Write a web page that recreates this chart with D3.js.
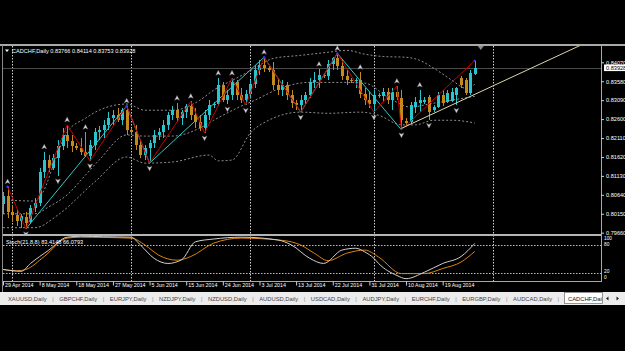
<!DOCTYPE html>
<html>
<head>
<meta charset="utf-8">
<script src="https://cdn.jsdelivr.net/npm/d3@7"></script>
<style>
  html, body { margin: 0; padding: 0; background: #000; }
  svg { display: block; }
  text { font-family: "Liberation Sans", Arial, sans-serif; }
</style>
</head>
<body>
<svg id="chart" width="625" height="351"></svg>
<script>
// bar dates (broker has Sunday bars), last four are empty future slots
const dates = [
  "2014-04-29","2014-04-30","2014-05-01","2014-05-02","2014-05-04","2014-05-05","2014-05-06","2014-05-07","2014-05-08","2014-05-09",
  "2014-05-11","2014-05-12","2014-05-13","2014-05-14","2014-05-15","2014-05-16","2014-05-18","2014-05-19","2014-05-20","2014-05-21",
  "2014-05-22","2014-05-23","2014-05-25","2014-05-26","2014-05-27","2014-05-28","2014-05-29","2014-05-30","2014-06-01","2014-06-02",
  "2014-06-03","2014-06-04","2014-06-05","2014-06-06","2014-06-08","2014-06-09","2014-06-10","2014-06-11","2014-06-12","2014-06-13",
  "2014-06-15","2014-06-16","2014-06-17","2014-06-18","2014-06-19","2014-06-20","2014-06-22","2014-06-23","2014-06-24","2014-06-25",
  "2014-06-26","2014-06-27","2014-06-29","2014-06-30","2014-07-01","2014-07-02","2014-07-03","2014-07-04","2014-07-06","2014-07-07",
  "2014-07-08","2014-07-09","2014-07-10","2014-07-11","2014-07-13","2014-07-14","2014-07-15","2014-07-16","2014-07-17","2014-07-18",
  "2014-07-20","2014-07-21","2014-07-22","2014-07-23","2014-07-24","2014-07-25","2014-07-27","2014-07-28","2014-07-29","2014-07-30",
  "2014-07-31","2014-08-01","2014-08-03","2014-08-04","2014-08-05","2014-08-06","2014-08-07","2014-08-08","2014-08-10","2014-08-11",
  "2014-08-12","2014-08-13","2014-08-14","2014-08-15","2014-08-17","2014-08-18","2014-08-19","2014-08-20","2014-08-21","2014-08-22",
  "2014-08-24","2014-08-25","2014-08-26","2014-08-27","2014-08-28","2014-08-29","2014-08-31","2014-09-01"
];

const opens = [
  0.8040,0.8062,0.8020,0.8012,0.7997,0.8007,0.7994,0.8030,0.8043,0.8123,
  0.8154,0.8134,0.8160,0.8190,0.8219,0.8203,0.8190,0.8185,0.8175,0.8165,
  0.8193,0.8226,0.8232,0.8245,0.8263,0.8270,0.8257,0.8283,0.8232,0.8226,
  0.8193,0.8167,0.8185,0.8198,0.8219,0.8226,0.8245,0.8270,0.8283,0.8263,
  0.8278,0.8294,0.8270,0.8252,0.8237,0.8270,0.8296,0.8299,0.8348,0.8309,
  0.8322,0.8355,0.8322,0.8309,0.8324,0.8350,0.8386,0.8399,0.8392,0.8386,
  0.8348,0.8335,0.8348,0.8322,0.8301,0.8296,0.8309,0.8322,0.8355,0.8361,
  0.8374,0.8371,0.8402,0.8417,0.8397,0.8371,0.8361,0.8358,0.8361,0.8324,
  0.8309,0.8299,0.8322,0.8319,0.8330,0.8309,0.8330,0.8314,0.8255,0.8252,
  0.8291,0.8301,0.8304,0.8317,0.8283,0.8291,0.8322,0.8304,0.8306,0.8322,
  0.8366,0.8361,0.8327,0.83766
];
const highs = [
  0.8072,0.8085,0.8038,0.8025,0.8015,0.8020,0.8038,0.8056,0.8134,0.8175,
  0.8167,0.8170,0.8206,0.8237,0.8245,0.8219,0.8198,0.8211,0.8226,0.8206,
  0.8237,0.8242,0.8257,0.8278,0.8283,0.8288,0.8288,0.8294,0.8237,0.8245,
  0.8206,0.8193,0.8206,0.8232,0.8237,0.8257,0.8278,0.8294,0.8301,0.8283,
  0.8299,0.8306,0.8288,0.8270,0.8283,0.8309,0.8304,0.8366,0.8355,0.8335,
  0.8366,0.8361,0.8340,0.8335,0.8361,0.8399,0.8412,0.8420,0.8397,0.8407,
  0.8366,0.8361,0.8355,0.8335,0.8309,0.8322,0.8330,0.8366,0.8381,0.8389,
  0.8379,0.8412,0.8422,0.8430,0.8412,0.8386,0.8366,0.8366,0.8381,0.8340,
  0.8330,0.8335,0.8327,0.8340,0.8340,0.8340,0.8345,0.8335,0.8263,0.8304,
  0.8317,0.8335,0.8317,0.8322,0.8296,0.8330,0.8335,0.8335,0.8340,0.8343,
  0.8371,0.8366,0.8386,0.84114
];
const lows = [
  0.8015,0.8005,0.7994,0.7984,0.7979,0.7976,0.7989,0.8020,0.8036,0.8108,
  0.8123,0.8128,0.8113,0.8180,0.8185,0.8175,0.8180,0.8167,0.8162,0.8152,
  0.8180,0.8206,0.8211,0.8232,0.8245,0.8252,0.8245,0.8219,0.8219,0.8180,
  0.8159,0.8154,0.8146,0.8185,0.8206,0.8211,0.8232,0.8257,0.8252,0.8245,
  0.8263,0.8257,0.8237,0.8229,0.8224,0.8257,0.8288,0.8294,0.8304,0.8299,
  0.8309,0.8309,0.8301,0.8296,0.8314,0.8340,0.8373,0.8381,0.8381,0.8335,
  0.8322,0.8319,0.8309,0.8288,0.8283,0.8278,0.8296,0.8314,0.8340,0.8340,
  0.8366,0.8361,0.8386,0.8386,0.8361,0.8348,0.8353,0.8340,0.8314,0.8296,
  0.8288,0.8278,0.8314,0.8304,0.8299,0.8283,0.8309,0.8232,0.8242,0.8247,
  0.8275,0.8278,0.8299,0.8257,0.8278,0.8288,0.8294,0.8301,0.8304,0.8296,
  0.8340,0.8322,0.8322,0.83753
];
const closes = [
  0.8060,0.8020,0.8012,0.7997,0.8010,0.7992,0.8030,0.8043,0.8123,0.8154,
  0.8134,0.8160,0.8190,0.8219,0.8203,0.8190,0.8185,0.8175,0.8165,0.8193,
  0.8226,0.8232,0.8245,0.8263,0.8270,0.8257,0.8283,0.8232,0.8226,0.8193,
  0.8167,0.8185,0.8198,0.8219,0.8226,0.8245,0.8270,0.8283,0.8263,0.8278,
  0.8294,0.8270,0.8252,0.8237,0.8270,0.8296,0.8299,0.8348,0.8309,0.8322,
  0.8355,0.8322,0.8309,0.8324,0.8350,0.8386,0.8399,0.8392,0.8386,0.8348,
  0.8335,0.8348,0.8322,0.8301,0.8296,0.8309,0.8322,0.8355,0.8361,0.8374,
  0.8371,0.8402,0.8417,0.8397,0.8371,0.8361,0.8358,0.8361,0.8324,0.8309,
  0.8299,0.8322,0.8319,0.8330,0.8309,0.8330,0.8317,0.8257,0.8250,0.8296,
  0.8304,0.8309,0.8309,0.8278,0.8291,0.8322,0.8301,0.8327,0.8330,0.8340,
  0.8348,0.8327,0.8379,0.83928
];

// bands: [bar index, price]
const bandUpper = [[0,0.8051],[7,0.8048],[9,0.8077],[11,0.8141],[14,0.8226],[18,0.8262],[21,0.8283],[27,0.8299],[31,0.8283],[37,0.8283],[43,0.8309],[46,0.8335],[51,0.8366],[55,0.8392],[59,0.8417],[65,0.8425],[71,0.8433],[75,0.8438],[79,0.8428],[83,0.8422],[88,0.8420],[91,0.8412],[94,0.8392],[98,0.8361],[101,0.8340],[103,0.8350]];
const bandMiddle = [[0,0.8015],[7,0.8015],[10,0.8033],[14,0.8064],[18,0.8115],[21,0.8154],[27,0.8219],[31,0.8216],[37,0.8216],[43,0.8237],[46,0.8257],[51,0.8288],[55,0.8309],[61,0.8342],[67,0.8355],[74,0.8355],[79,0.8353],[84,0.8317],[89,0.8291],[93,0.8299],[98,0.8309],[103,0.8319]];
const bandLower = [[0,0.7979],[7,0.7979],[12,0.8012],[20,0.8097],[27,0.8162],[31,0.8146],[37,0.8149],[45,0.8167],[47,0.8152],[50,0.8154],[54,0.8224],[58,0.8257],[65,0.8278],[71,0.8275],[78,0.8278],[82,0.8270],[87,0.8245],[90,0.8245],[94,0.8257],[98,0.8257],[103,0.8250]];

// zigzags (bar indexes of swing points, first one a high / a low)
const redZigBars = [1,5,14,19,27,32,41,44,50,53,57,65,73,81,86,87,103];
const cyanZigBars = [5,27,32,57,65,73,87];
const zigDotBars = [1,27,57,73,103];

// fractals
const upFractals = [1,9,14,18,27,38,41,47,50,57,69,73,78,86,91];
const downFractals = [5,12,19,32,44,49,53,65,81,87,93,99];

// trend line anchors
const trendDates = ["2014-08-08","2014-08-27"];
const trendPrices = [0.8236, 0.8324];

// stochastic (21,8,8): [bar index, value]
const stochMain = [[0,27],[4,23],[6,40],[10,69],[14,97],[17,99],[22,98],[28,97],[30,80],[33,51],[36,40],[39,48],[42,87],[46,93],[52,97],[60,91],[63,80],[67,51],[70,40],[74,69],[77,73],[79,65],[81,51],[82,40],[86,14],[88,7],[92,21],[96,40],[100,55],[103,83.41]];
const stochSignal = [[0,27],[3,24],[5,27],[9,55],[14,95],[17,97],[28,95],[31,80],[34,58],[38,47],[41,55],[46,84],[52,95],[61,90],[65,80],[68,62],[71,46],[75,62],[79,69],[82,54],[87,18],[92,18],[96,29],[100,43],[103,66.08]];

const priceTicks = [0.84070,0.83580,0.83090,0.82600,0.82110,0.81620,0.81130,0.80640,0.80150,0.79660];
const lastPrice = 0.83928;
const stochLevels = [80, 20];
const stochLabels = [100, 80, 20, 0];
const monthStarts = ["2014-05-01","2014-06-01","2014-07-01","2014-08-01","2014-09-01"];
const dateTickDates = ["2014-04-29","2014-05-08","2014-05-18","2014-05-27","2014-06-05","2014-06-15","2014-06-24","2014-07-03","2014-07-13","2014-07-22","2014-07-31","2014-08-10","2014-08-19"];
const dateTickLabels = ["29 Apr 2014","8 May 2014","18 May 2014","27 May 2014","5 Jun 2014","15 Jun 2014","24 Jun 2014","3 Jul 2014","13 Jul 2014","22 Jul 2014","31 Jul 2014","10 Aug 2014","19 Aug 2014"];
const tabNames = ["XAUUSD,Daily","GBPCHF,Daily","EURJPY,Daily","NZDJPY,Daily","NZDUSD,Daily","AUDUSD,Daily","USDCAD,Daily","AUDJPY,Daily","EURCHF,Daily","EURGBP,Daily","AUDCAD,Daily"];
const activeTab = "CADCHF,Daily";
const titleText = "CADCHF,Daily 0.83766 0.84114 0.83753 0.83928";
const stochTitle = "Stoch(21,8,8) 83.4148 66.0793";

const svg = d3.select("#chart");
const L = 3, R = 601, T = 46, B = 234, ST = 235.5, SB = 281.5;
const bull = "#27c6cf", bear = "#c48a1c";

svg.append("rect").attr("width", 625).attr("height", 351).attr("fill", "#000");

const defs = svg.append("defs");
defs.append("clipPath").attr("id", "clipMain").append("rect")
  .attr("x", L).attr("y", T).attr("width", R - L).attr("height", B - T);
defs.append("clipPath").attr("id", "clipSub").append("rect")
  .attr("x", L).attr("y", ST).attr("width", R - L).attr("height", SB - ST);

const x = d3.scaleLinear().domain([0, dates.length - 1]).range([L, L + (dates.length - 1) * 4.58]);
const y = d3.scaleLinear().domain([0.79660, 0.84070]).range([232.7, 62.3]);
const ys = d3.scaleLinear().domain([0, 100]).range([281.9, 235.8]);
const xd = d => x(dates.indexOf(d));

// vertical dotted grid at month starts (both panes)
svg.append("g").selectAll("line").data(monthStarts).join("line")
  .attr("x1", d => Math.round(xd(d)) + 0.5).attr("x2", d => Math.round(xd(d)) + 0.5)
  .attr("y1", T).attr("y2", SB)
  .attr("stroke", "#cfcfcf").attr("stroke-dasharray", "1.5,1.5");

const main = svg.append("g").attr("clip-path", "url(#clipMain)");

// bid line
main.append("line").attr("x1", L).attr("x2", R)
  .attr("y1", Math.round(y(lastPrice)) + 0.5).attr("y2", Math.round(y(lastPrice)) + 0.5)
  .attr("stroke", "#4a4a4a");

// dotted bands
const bandLine = d3.line().x(d => x(d[0])).y(d => y(d[1])).curve(d3.curveMonotoneX);
[bandUpper, bandMiddle, bandLower].forEach(b => {
  main.append("path").attr("d", bandLine(b)).attr("fill", "none")
    .attr("stroke", "#8e8e8e").attr("stroke-width", 1).attr("stroke-dasharray", "2,2");
});

// candles
const bars = opens.map((o, i) => ({ i, o, h: highs[i], l: lows[i], c: closes[i] }));
const cg = main.append("g").attr("shape-rendering", "crispEdges");
cg.selectAll("line").data(bars).join("line")
  .attr("x1", d => Math.round(x(d.i)) + 0.5).attr("x2", d => Math.round(x(d.i)) + 0.5)
  .attr("y1", d => y(d.h)).attr("y2", d => y(d.l))
  .attr("stroke", d => d.c >= d.o ? bull : bear);
cg.selectAll("rect").data(bars).join("rect")
  .attr("x", d => Math.round(x(d.i)) - 1).attr("width", 3)
  .attr("y", d => y(Math.max(d.o, d.c)))
  .attr("height", d => Math.max(1, Math.abs(y(d.o) - y(d.c))))
  .attr("fill", d => d.c >= d.o ? bull : bear);

// zigzags
const zigPts = (list, startHigh) => list.map((b, k) => [x(b), y(((k % 2 === 0) === startHigh) ? highs[b] : lows[b])]);
main.append("path").attr("d", d3.line()(zigPts(cyanZigBars, false)))
  .attr("fill", "none").attr("stroke", "#2ec8c8").attr("stroke-width", 1);
main.append("path").attr("d", d3.line()(zigPts(redZigBars, true)))
  .attr("fill", "none").attr("stroke", "#c80000").attr("stroke-width", 1);
main.selectAll(".zd").data(zigDotBars).join("circle").attr("class", "zd")
  .attr("cx", d => x(d)).attr("cy", d => y(highs[d])).attr("r", 1.2).attr("fill", "#2b3cff");

// trend line (ray to the right)
const ti0 = dates.indexOf(trendDates[0]), ti1 = dates.indexOf(trendDates[1]);
const slope = (trendPrices[1] - trendPrices[0]) / (ti1 - ti0);
const tiEnd = ti0 + 60;
main.append("line")
  .attr("x1", x(ti0)).attr("y1", y(trendPrices[0]))
  .attr("x2", x(tiEnd)).attr("y2", y(trendPrices[0] + slope * (tiEnd - ti0)))
  .attr("stroke", "#dcd6a8").attr("stroke-width", 1);

// fractal arrows
const upArrow = "M0,-2.8L2.5,2L0,0.8L-2.5,2Z";
const downArrow = "M0,2.8L2.5,-2L0,-0.8L-2.5,-2Z";
main.selectAll(".fu").data(upFractals).join("path").attr("class", "fu")
  .attr("d", upArrow).attr("transform", d => `translate(${x(d)},${y(highs[d]) - 5})`)
  .attr("fill", "#d8d8d8").attr("stroke", "#6a6a6a").attr("stroke-width", 0.4);
main.selectAll(".fd").data(downFractals).join("path").attr("class", "fd")
  .attr("d", downArrow).attr("transform", d => `translate(${x(d)},${y(lows[d]) + 5})`)
  .attr("fill", "#d8d8d8").attr("stroke", "#6a6a6a").attr("stroke-width", 0.4);

// stochastic pane
const sub = svg.append("g").attr("clip-path", "url(#clipSub)");
sub.selectAll(".lvl").data(stochLevels).join("line").attr("class", "lvl")
  .attr("x1", L).attr("x2", R)
  .attr("y1", d => Math.round(ys(d)) + 0.5).attr("y2", d => Math.round(ys(d)) + 0.5)
  .attr("stroke", "#bdbdbd").attr("stroke-dasharray", "1.5,1.5");
const stochLine = d3.line().x(d => x(d[0])).y(d => ys(d[1])).curve(d3.curveMonotoneX);
sub.append("path").attr("d", stochLine(stochSignal)).attr("fill", "none")
  .attr("stroke", "#e0820e").attr("stroke-width", 1);
sub.append("path").attr("d", stochLine(stochMain)).attr("fill", "none")
  .attr("stroke", "#cfcfcf").attr("stroke-width", 1);

// frame
const frame = svg.append("g").attr("shape-rendering", "crispEdges");
frame.append("line").attr("x1", 0).attr("x2", 625).attr("y1", 45).attr("y2", 45).attr("stroke", "#a9a9a9").attr("stroke-width", 2);
frame.append("line").attr("x1", 2.5).attr("x2", 2.5).attr("y1", 45).attr("y2", 292).attr("stroke", "#8a8a8a");
frame.append("line").attr("x1", R + 0.5).attr("x2", R + 0.5).attr("y1", 45).attr("y2", SB).attr("stroke", "#a9a9a9");
frame.append("line").attr("x1", L).attr("x2", R).attr("y1", 235).attr("y2", 235).attr("stroke", "#b5b5b5").attr("stroke-width", 2);
frame.append("line").attr("x1", L).attr("x2", R + 1).attr("y1", SB).attr("y2", SB).attr("stroke", "#a9a9a9");

// chart shift marker
svg.append("path").attr("d", "M-3,0L3,0L0,4Z")
  .attr("transform", `translate(${x(opens.length - 1) + 6},46)`).attr("fill", "#8a8a8a");

// price axis
const yAxis = svg.append("g").attr("transform", `translate(${R},0)`)
  .call(d3.axisRight(y).tickValues(priceTicks).tickFormat(d3.format(".5f")).tickSize(3).tickPadding(2));
yAxis.select(".domain").remove();
yAxis.selectAll("line").attr("stroke", "#cfcfcf");
yAxis.selectAll("text").attr("fill", "#fff").attr("font-size", 5.6);

// last price label
svg.append("rect").attr("x", R + 3).attr("y", y(lastPrice) - 3.3).attr("width", 22).attr("height", 6.6).attr("fill", "#fff");
svg.append("text").attr("x", R + 5).attr("y", y(lastPrice)).attr("dy", "0.35em")
  .attr("font-size", 5.6).attr("fill", "#000").text(d3.format(".5f")(lastPrice));

// stochastic level labels
const lvlPos = { 100: ys(100) + 2.5, 80: ys(80) - 0.6, 20: ys(20) - 1, 0: ys(0) - 4.5 };
svg.selectAll(".sl").data(stochLabels).join("text").attr("class", "sl")
  .attr("x", R + 3).attr("y", d => lvlPos[d]).attr("dy", "0.35em")
  .attr("font-size", 4.8).attr("fill", "#fff").text(d => d);

// date axis
const xAxis = svg.append("g").attr("transform", `translate(0,${SB})`)
  .call(d3.axisBottom(x).tickValues(dateTickDates.map(d => dates.indexOf(d)))
    .tickFormat((d, i) => dateTickLabels[i]).tickSize(4).tickPadding(0));
xAxis.select(".domain").remove();
xAxis.selectAll("line").attr("stroke", "#cfcfcf");
xAxis.selectAll("text").attr("fill", "#fff").attr("font-size", 5.3)
  .attr("text-anchor", "start").attr("dx", 1.5).attr("y", 2.2);

// titles
svg.append("path").attr("d", "M5,49.5L9,49.5L7,52Z").attr("fill", "#fff");
svg.append("text").attr("x", 12).attr("y", 51).attr("dy", "0.35em")
  .attr("font-size", 5.6).attr("fill", "#fff").text(titleText);
svg.append("text").attr("x", 6).attr("y", 241.7).attr("dy", "0.35em")
  .attr("font-size", 5.6).attr("fill", "#fff").text(stochTitle);

// tab strip
svg.append("rect").attr("x", 0).attr("y", 292).attr("width", 625).attr("height", 13).attr("fill", "#ececec");
const tabs = svg.append("g");
let tx = 8;
tabNames.forEach(name => {
  const t = tabs.append("text").attr("x", tx).attr("y", 298.5).attr("dy", "0.35em")
    .attr("font-size", 5.8).attr("fill", "#444").text(name);
  const w = t.node().getComputedTextLength();
  tabs.append("text").attr("x", tx + w + 5.5).attr("y", 298.5).attr("dy", "0.35em")
    .attr("font-size", 5.8).attr("fill", "#888").text("|");
  tx += w + 12.6;
});
svg.append("defs").append("clipPath").attr("id", "clipTab").append("rect")
  .attr("x", 564).attr("y", 292).attr("width", 38).attr("height", 12);
svg.append("rect").attr("x", 564.5).attr("y", 292.5).attr("width", 38).attr("height", 11)
  .attr("fill", "#fff").attr("stroke", "#7a7a7a").attr("stroke-width", 0.8);
svg.append("text").attr("x", 568).attr("y", 298.5).attr("dy", "0.35em").attr("clip-path", "url(#clipTab)")
  .attr("font-size", 5.8).attr("fill", "#111").text(activeTab);
svg.append("path").attr("d", "M608.5,296.5L606,298.5L608.5,300.5Z").attr("fill", "#222");
svg.append("path").attr("d", "M616.5,296.5L619,298.5L616.5,300.5Z").attr("fill", "#222");
</script>
</body>
</html>
